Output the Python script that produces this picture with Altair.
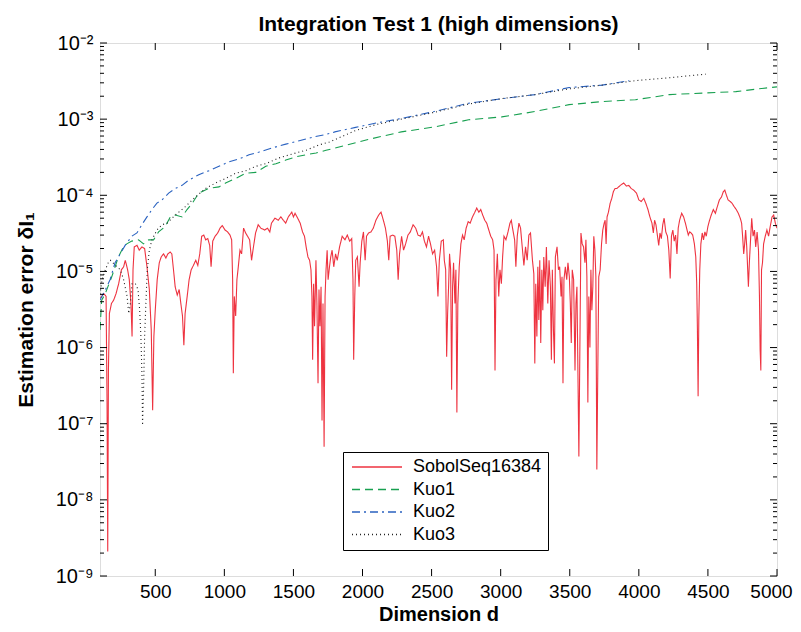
import altair as alt
import pandas as pd

W, H = 677, 533
FONT = "Liberation Sans"

# ---- data: (dimension d, estimation error) ----
sobol_pts = [
    (103, 4.5e-6), (127, 5.1e-6), (144, 4.7e-6), (151, 1.9e-7), (156, 2.1e-9), (161, 5.0e-7),
    (168, 2.8e-6), (183, 3.8e-6), (199, 4.2e-6), (216, 5.1e-6), (235, 6.9e-6), (255, 1.05e-5),
    (271, 1.15e-5), (283, 1.4e-5), (300, 1.05e-5), (312, 7.8e-6), (324, 3.8e-6), (332, 1.4e-6),
    (339, 1.05e-5), (348, 2.1e-5), (368, 2.2e-5), (384, 1.9e-5), (404, 2.1e-5), (423, 2.0e-5),
    (440, 1.15e-5), (457, 5.8e-6), (471, 1.7e-6), (481, 1.5e-7), (490, 1.4e-6), (500, 3.1e-6),
    (514, 7.8e-6), (529, 1.3e-5), (543, 1.55e-5), (560, 1.7e-5), (577, 1.5e-5), (591, 1.7e-5),
    (608, 1.8e-5), (620, 1.7e-5), (632, 1.05e-5), (644, 6.3e-6), (659, 4.9e-6), (673, 5.8e-6),
    (685, 3.8e-6), (697, 2.6e-6), (707, 1.07e-6), (716, 2.8e-6), (731, 4.7e-6), (745, 7.8e-6),
    (760, 1.05e-5), (776, 1.2e-5), (793, 1.4e-5), (808, 1.2e-5), (822, 1.7e-5), (836, 2.9e-5),
    (851, 3.0e-5), (865, 2.6e-5), (880, 2.7e-5), (894, 2.2e-5), (904, 1.15e-5), (916, 2.5e-5),
    (933, 2.9e-5), (952, 3.2e-5), (969, 3.7e-5), (985, 4.0e-5), (1005, 3.5e-5), (1024, 3.3e-5),
    (1041, 3.0e-5), (1053, 2.6e-5), (1060, 7.8e-6), (1065, 4.6e-7), (1072, 4.7e-6), (1082, 2.6e-6),
    (1091, 7.8e-6), (1101, 1.15e-5), (1113, 1.9e-5), (1125, 1.7e-5), (1139, 3.7e-5), (1154, 3.2e-5),
    (1168, 2.9e-5), (1183, 2.6e-5), (1197, 1.4e-5), (1209, 2.0e-5), (1226, 3.2e-5), (1245, 4.1e-5),
    (1264, 3.7e-5), (1292, 3.5e-5), (1312, 3.7e-5), (1329, 3.3e-5), (1341, 4.3e-5), (1366, 5.0e-5),
    (1390, 4.7e-5), (1409, 5.2e-5), (1427, 4.7e-5), (1444, 4.3e-5), (1463, 5.2e-5), (1488, 6.0e-5),
    (1500, 5.2e-5), (1512, 5.8e-5), (1531, 5.0e-5), (1549, 4.3e-5), (1566, 3.3e-5), (1580, 2.9e-5),
    (1592, 2.1e-5), (1605, 1.55e-5), (1617, 1.4e-5), (1627, 1.05e-5), (1634, 4.7e-6), (1639, 6.9e-7),
    (1646, 6.9e-6), (1653, 1.9e-6), (1663, 1.4e-5), (1670, 3.8e-6), (1678, 3.4e-7), (1685, 5.8e-6),
    (1692, 1.9e-6), (1700, 6.3e-6), (1707, 1.1e-7), (1714, 3.8e-6), (1722, 5.0e-8), (1729, 4.7e-6),
    (1736, 1.05e-5), (1744, 1.9e-5), (1751, 7.8e-6), (1761, 1.15e-5), (1770, 1.55e-5), (1780, 1.9e-5),
    (1792, 1.15e-5), (1805, 1.7e-5), (1817, 1.4e-5), (1834, 2.1e-5), (1853, 2.9e-5), (1873, 2.6e-5),
    (1890, 3.0e-5), (1907, 2.5e-5), (1922, 2.7e-5), (1931, 7.8e-6), (1936, 6.9e-7), (1944, 4.7e-6),
    (1951, 1.4e-5), (1963, 1.55e-5), (1975, 6.3e-6), (1983, 1.3e-5), (1995, 2.5e-5), (2007, 3.3e-5),
    (2019, 1.4e-5), (2029, 2.9e-5), (2044, 3.2e-5), (2061, 3.3e-5), (2078, 3.7e-5), (2097, 4.7e-5),
    (2117, 5.5e-5), (2134, 6.0e-5), (2151, 4.7e-5), (2166, 3.7e-5), (2180, 2.5e-5), (2190, 1.4e-5),
    (2200, 2.9e-5), (2219, 3.0e-5), (2234, 2.9e-5), (2248, 1.9e-5), (2258, 7.8e-6), (2268, 1.7e-5),
    (2283, 2.9e-5), (2297, 1.9e-5), (2312, 2.3e-5), (2329, 3.0e-5), (2346, 3.3e-5), (2366, 4.1e-5),
    (2385, 3.7e-5), (2402, 3.0e-5), (2419, 2.9e-5), (2434, 3.3e-5), (2448, 2.5e-5), (2463, 2.1e-5),
    (2478, 2.9e-5), (2492, 2.3e-5), (2507, 1.7e-5), (2522, 1.9e-5), (2536, 1.15e-5), (2546, 4.7e-6),
    (2556, 1.4e-5), (2570, 2.5e-5), (2585, 2.6e-5), (2592, 1.4e-5), (2602, 1.05e-5), (2609, 7.6e-7),
    (2616, 2.8e-6), (2623, 6.3e-6), (2630, 1.7e-5), (2638, 1.05e-5), (2645, 2.8e-7), (2652, 6.3e-6),
    (2659, 1.3e-5), (2669, 3.8e-6), (2676, 1.05e-5), (2683, 1.4e-7), (2690, 3.8e-6), (2700, 1.15e-5),
    (2712, 2.3e-5), (2724, 3.0e-5), (2736, 2.6e-5), (2750, 3.7e-5), (2765, 4.5e-5), (2779, 4.3e-5),
    (2796, 5.2e-5), (2813, 6.0e-5), (2827, 6.8e-5), (2842, 6.0e-5), (2856, 6.5e-5), (2870, 5.5e-5),
    (2885, 4.7e-5), (2899, 4.3e-5), (2914, 3.5e-5), (2928, 2.9e-5), (2942, 2.6e-5), (2952, 1.9e-5),
    (2959, 5.0e-7), (2966, 7.8e-6), (2976, 1.7e-5), (2986, 4.7e-6), (2995, 1.05e-5), (3005, 6.9e-6),
    (3014, 1.55e-5), (3024, 2.9e-5), (3038, 2.6e-5), (3053, 3.3e-5), (3067, 4.3e-5), (3077, 4.7e-5),
    (3086, 3.7e-5), (3101, 2.6e-5), (3110, 1.15e-5), (3120, 2.9e-5), (3132, 4.3e-5), (3144, 3.7e-5),
    (3158, 1.9e-5), (3168, 1.2e-5), (3180, 2.1e-5), (3192, 1.4e-5), (3204, 3.0e-5), (3216, 3.2e-5),
    (3230, 1.4e-5), (3240, 9.3e-6), (3247, 6.2e-7), (3254, 6.9e-6), (3262, 1.4e-6), (3269, 1.15e-5),
    (3276, 2.3e-6), (3283, 1.4e-5), (3290, 1.15e-6), (3298, 1.05e-5), (3305, 3.1e-6), (3312, 1.55e-5),
    (3322, 6.3e-6), (3331, 2.1e-5), (3341, 3.8e-6), (3350, 1.4e-5), (3360, 6.3e-6), (3367, 6.9e-7),
    (3374, 1.05e-5), (3382, 1.7e-6), (3389, 6.2e-7), (3396, 1.55e-5), (3408, 2.1e-5), (3418, 1.05e-5),
    (3427, 1.15e-5), (3437, 4.7e-6), (3444, 8.5e-6), (3451, 3.4e-7), (3458, 7.8e-6), (3468, 1.15e-5),
    (3478, 7.8e-6), (3487, 1.3e-5), (3497, 8.5e-6), (3504, 3.8e-6), (3511, 1.15e-6), (3518, 1.05e-5),
    (3528, 7.8e-6), (3538, 5.0e-7), (3545, 3.8e-6), (3552, 6.3e-6), (3559, 5.0e-7), (3566, 3.7e-8),
    (3574, 1.4e-6), (3581, 3.2e-5), (3590, 2.3e-5), (3600, 2.1e-5), (3610, 1.3e-5), (3617, 2.6e-5),
    (3624, 8.5e-6), (3631, 1.9e-7), (3638, 4.7e-6), (3646, 1.0e-6), (3653, 1.05e-5), (3660, 3.1e-6),
    (3667, 6.3e-6), (3674, 2.9e-5), (3682, 1.9e-5), (3689, 8.5e-6), (3696, 2.5e-8), (3703, 5.0e-7),
    (3710, 8.5e-6), (3720, 1.05e-5), (3730, 2.3e-5), (3739, 3.5e-5), (3749, 4.3e-5), (3756, 4.7e-5),
    (3763, 2.3e-5), (3770, 5.2e-5), (3780, 6.0e-5), (3792, 7.8e-5), (3804, 9.1e-5), (3816, 1.12e-4),
    (3828, 1.23e-4), (3841, 1.23e-4), (3866, 1.35e-4), (3890, 1.45e-4), (3910, 1.32e-4), (3927, 1.35e-4),
    (3944, 1.23e-4), (3963, 1.17e-4), (3983, 1.07e-4), (4000, 8.7e-5), (4017, 8.3e-5), (4036, 9.1e-5),
    (4051, 7.8e-5), (4066, 6.5e-5), (4080, 5.2e-5), (4095, 4.3e-5), (4105, 3.2e-5), (4114, 4.7e-5),
    (4124, 4.1e-5), (4134, 3.0e-5), (4144, 2.2e-5), (4153, 3.2e-5), (4163, 2.7e-5), (4173, 4.1e-5),
    (4183, 5.0e-5), (4195, 3.3e-5), (4207, 2.9e-5), (4217, 1.9e-5), (4227, 8.1e-6), (4236, 2.9e-5),
    (4246, 3.5e-5), (4256, 2.5e-5), (4266, 3.0e-5), (4276, 1.7e-5), (4285, 3.7e-5), (4295, 4.7e-5),
    (4310, 5.8e-5), (4324, 5.2e-5), (4337, 4.3e-5), (4349, 3.5e-5), (4358, 3.0e-5), (4368, 3.3e-5),
    (4378, 3.2e-5), (4390, 3.0e-5), (4402, 2.3e-5), (4412, 1.55e-5), (4419, 6.9e-6), (4424, 1.7e-6),
    (4429, 2.3e-7), (4434, 2.3e-6), (4441, 1.05e-5), (4449, 2.3e-5), (4459, 3.2e-5), (4468, 2.6e-5),
    (4478, 3.3e-5), (4488, 2.9e-5), (4500, 3.9e-5), (4512, 4.7e-5), (4524, 5.5e-5), (4539, 6.5e-5),
    (4554, 5.8e-5), (4568, 7.1e-5), (4583, 8.7e-5), (4598, 9.5e-5), (4612, 1.12e-4), (4622, 1.17e-4),
    (4634, 1.0e-4), (4646, 8.7e-5), (4661, 8.3e-5), (4676, 7.8e-5), (4690, 7.1e-5), (4705, 6.5e-5),
    (4720, 5.8e-5), (4734, 5.0e-5), (4744, 4.3e-5), (4751, 2.9e-5), (4759, 1.7e-5), (4766, 2.3e-5),
    (4773, 3.5e-5), (4781, 2.1e-5), (4788, 1.05e-5), (4793, 6.3e-6), (4800, 1.3e-5), (4807, 2.3e-5),
    (4817, 5.0e-5), (4827, 2.9e-5), (4837, 3.5e-5), (4846, 2.1e-5), (4856, 3.3e-5), (4866, 1.9e-5),
    (4873, 4.7e-6), (4878, 9.3e-7), (4883, 5.0e-7), (4888, 1.05e-5), (4895, 1.3e-5), (4903, 2.3e-5),
    (4915, 2.9e-5), (4927, 3.5e-5), (4939, 2.9e-5), (4951, 3.9e-5), (4964, 5.2e-5), (4976, 5.5e-5),
    (4988, 4.3e-5), (5000, 3.7e-5),
]

kuo1_pts = [
    (100, 1.7e-6), (112, 4.2e-6), (136, 5.0e-6), (185, 8.5e-6), (233, 1.55e-5), (270, 2.1e-5),
    (294, 2.3e-5), (330, 2.5e-5), (379, 2.6e-5), (415, 2.3e-5), (452, 2.6e-5), (488, 2.6e-5),
    (524, 3.3e-5), (573, 3.9e-5), (609, 5.2e-5), (645, 5.5e-5), (694, 5.2e-5), (730, 6.5e-5),
    (767, 7.8e-5), (815, 1.07e-4), (888, 1.23e-4), (961, 1.29e-4), (1009, 1.45e-4), (1082, 1.66e-4),
    (1155, 1.95e-4), (1227, 2.0e-4), (1300, 2.4e-4), (1373, 2.6e-4), (1445, 2.9e-4), (1518, 3.2e-4),
    (1591, 3.4e-4), (1664, 3.6e-4), (1736, 3.9e-4), (1809, 4.2e-4), (2040, 5.4e-4), (2281, 6.8e-4),
    (2521, 7.9e-4), (2768, 9.8e-4), (3008, 1.07e-3), (3248, 1.26e-3), (3495, 1.55e-3), (3735, 1.7e-3),
    (3975, 1.8e-3), (4222, 2.1e-3), (4462, 2.2e-3), (4702, 2.3e-3), (4949, 2.6e-3), (5000, 2.65e-3),
]

kuo2_pts = [
    (100, 4.2e-6), (136, 5.6e-6), (173, 7.8e-6), (209, 1.3e-5), (246, 1.7e-5), (282, 2.2e-5),
    (330, 2.9e-5), (367, 3.2e-5), (403, 4.1e-5), (440, 5.2e-5), (476, 6.5e-5), (512, 7.9e-5),
    (549, 8.7e-5), (597, 1.07e-4), (645, 1.23e-4), (694, 1.35e-4), (742, 1.58e-4), (815, 1.86e-4),
    (888, 2.1e-4), (961, 2.4e-4), (1033, 2.75e-4), (1106, 3.0e-4), (1179, 3.4e-4), (1252, 3.7e-4),
    (1348, 4.2e-4), (1445, 4.7e-4), (1542, 5.2e-4), (1639, 5.8e-4), (1736, 6.3e-4), (1800, 6.8e-4),
    (1950, 7.8e-4), (2100, 8.9e-4), (2281, 1.02e-3), (2521, 1.26e-3), (2768, 1.62e-3), (3008, 1.85e-3),
    (3248, 2.1e-3), (3495, 2.6e-3), (3735, 2.8e-3), (3931, 3.2e-3),
]

kuo3_pts = [
    (100, 5.0e-6), (115, 7.8e-6), (139, 1.05e-5), (163, 1.35e-5), (175, 1.4e-5), (200, 1.26e-5),
    (247, 1.05e-5), (271, 7.8e-6), (296, 4.7e-6), (308, 2.8e-6), (320, 3.8e-6), (332, 6.9e-6),
    (356, 6.9e-6), (375, 5.8e-6), (387, 3.1e-6), (396, 1.4e-6), (404, 4.2e-7), (408, 9.5e-8),
    (416, 3.1e-7), (423, 1.4e-6), (433, 4.2e-6), (442, 1.05e-5), (457, 1.9e-5), (476, 2.6e-5),
    (512, 3.5e-5), (548, 4.1e-5), (585, 4.3e-5), (645, 5.5e-5), (718, 7.1e-5), (791, 9.5e-5),
    (864, 1.23e-4), (936, 1.45e-4), (1009, 1.66e-4), (1082, 1.95e-4), (1155, 2.1e-4), (1227, 2.4e-4),
    (1300, 2.6e-4), (1397, 3.1e-4), (1494, 3.5e-4), (1591, 3.9e-4), (1688, 4.6e-4), (1760, 5.0e-4),
    (1950, 7.1e-4), (2100, 8.5e-4), (2281, 1.0e-3), (2521, 1.23e-3), (2768, 1.58e-3), (3008, 1.86e-3),
    (3248, 2.1e-3), (3495, 2.5e-3), (3735, 2.8e-3), (3975, 3.2e-3), (4222, 3.5e-3), (4484, 3.9e-3),
]

series_names = ["SobolSeq16384", "Kuo1", "Kuo2", "Kuo3"]
series_colors = ["#EE3340", "#18A050", "#2A62C0", "#222222"]
series_dashes = [[1, 0], [8, 5], [8, 4, 2, 4], [1, 3]]

x_ticks = [500, 1000, 1500, 2000, 2500, 3000, 3500, 4000, 4500, 5000]
y_major = [1e-9, 1e-8, 1e-7, 1e-6, 1e-5, 1e-4, 1e-3, 1e-2]
y_minor = [m * 10.0 ** k for k in range(-9, -2) for m in range(2, 10)]
sup = {-9: "⁻⁹", -8: "⁻⁸", -7: "⁻⁷", -6: "⁻⁶", -5: "⁻⁵", -4: "⁻⁴", -3: "⁻³", -2: "⁻²"}

frames = []
for name, pts in zip(series_names, [sobol_pts, kuo1_pts, kuo2_pts, kuo3_pts]):
    frames.append(pd.DataFrame({"d": [p[0] for p in pts], "err": [p[1] for p in pts], "series": name}))
df = pd.concat(frames, ignore_index=True)

label_expr = "".join(
    f"round(log(datum.value)/LN10) == {k} ? '10{s}' : " for k, s in sup.items()
) + "''"

xscale = alt.Scale(domain=[100, 5000], nice=False, zero=False)
yscale = alt.Scale(type="log", domain=[1e-9, 1e-2], nice=False)

x_axis = alt.Axis(
    values=x_ticks, format="d", title="Dimension d", tickSize=0, domain=False, grid=False,
    labelFont=FONT, labelFontSize=19, labelPadding=6, labelColor="black", labelFlush=False,
    labelOffset={"condition": {"test": "datum.value == 5000", "value": -6}, "value": 0},
    titleFont=FONT, titleFontSize=20, titleFontWeight="bold", titleColor="black", titlePadding=3)
y_axis = alt.Axis(
    values=y_major, labelExpr=label_expr, title="Estimation error δI₁", tickSize=0,
    domain=False, grid=False, labelFont=FONT, labelFontSize=20, labelPadding=7,
    labelColor="black", labelFlush=False,
    titleFont=FONT, titleFontSize=21, titleFontWeight="bold", titleColor="black", titlePadding=19)

# long thin stroke drawn from a small symbol box, so the legend rows stay compact
legend = alt.Legend(
    title=None, orient="none", legendX=243, legendY=409,
    symbolType="M-1.2,0H8.8", symbolSize=100, symbolStrokeWidth=1.3,
    labelFont=FONT, labelFontSize=18, labelColor="black", labelOffset=46,
    labelExpr="datum.label + '\u00a0\u00a0'",
    padding=6, rowPadding=4.5, strokeColor="black", fillColor="white",
)

lines = alt.Chart(df).mark_line(strokeWidth=1.1, clip=True).encode(
    x=alt.X("d:Q", scale=xscale, axis=x_axis),
    y=alt.Y("err:Q", scale=yscale, axis=y_axis),
    color=alt.Color("series:N", scale=alt.Scale(domain=series_names, range=series_colors), legend=legend),
    strokeDash=alt.StrokeDash("series:N", scale=alt.Scale(domain=series_names, range=series_dashes), legend=legend),
)

ymaj_df = pd.DataFrame({"v": y_major})
ymin_df = pd.DataFrame({"v": y_minor})
xt_df = pd.DataFrame({"v": x_ticks})

def yticks(data, length, right):
    x0, x1 = (W - length, W) if right else (0, length)
    return alt.Chart(data).mark_rule(color="black", strokeWidth=1).encode(
        y=alt.Y("v:Q", scale=yscale, axis=y_axis), x=alt.value(x0), x2=alt.value(x1))

def xticks(data, length, top):
    y0, y1 = (0, length) if top else (H - length, H)
    return alt.Chart(data).mark_rule(color="black", strokeWidth=1).encode(
        x=alt.X("v:Q", scale=xscale, axis=x_axis), y=alt.value(y0), y2=alt.value(y1))

chart = alt.layer(
    lines,
    yticks(ymaj_df, 7, False), yticks(ymaj_df, 7, True),
    yticks(ymin_df, 4, False), yticks(ymin_df, 4, True),
    xticks(xt_df, 7, True), xticks(xt_df, 7, False),
).properties(
    width=W, height=H,
    title=alt.TitleParams("Integration Test 1 (high dimensions)", font=FONT, fontSize=21,
                          fontWeight="bold", color="black", offset=-2, anchor="middle",
                          frame="group"),
    autosize=alt.AutoSizeParams(type="none"),
    padding={"left": 92, "top": 35, "right": 16, "bottom": 48},
).configure_view(stroke="black", strokeWidth=2).configure(background="white")

chart.save("out.html", embed_options={"renderer": "svg", "actions": False})
